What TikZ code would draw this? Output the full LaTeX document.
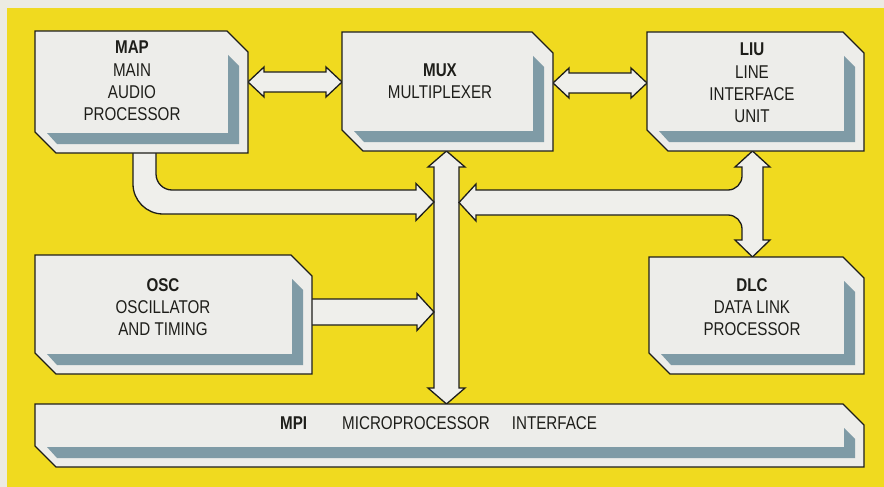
\documentclass[tikz,border=0pt]{standalone}
\usepackage{fontspec}
\setmainfont{Liberation Sans}[FakeStretch=0.82]
\usetikzlibrary{fit,calc}
\definecolor{paper}{HTML}{ECEBE2}
\definecolor{bgyellow}{HTML}{F0DA1F}
\definecolor{boxfillc}{HTML}{EDEDEA}
\definecolor{shadowblue}{HTML}{7F9BA6}
\definecolor{ink}{HTML}{1E1E1A}
\definecolor{arrowfillc}{HTML}{EFEFEB}
\tikzset{
  boxline/.style={draw=ink, line width=1.4pt, line join=miter},
  fatarrow/.style={fill=arrowfillc, draw=ink, line width=1.3pt, line join=miter},
  boxtext/.style={align=center, inner sep=0pt, text=ink, font=\fontsize{18.5}{22.3}\selectfont},
}
% name, x0, y0, x1, y1
\newcommand\blockbox[5]{%
  \node[fit={(#2,#3)(#4,#5)}, inner sep=0pt] (#1) {};
  \fill[boxfillc] (#2,#3) -- (#4-21,#3) -- (#4,#3+21) -- (#4,#5) -- (#2+21,#5) -- (#2,#5-21) -- cycle;
  \fill[shadowblue] (#4-20,#3+24) -- (#4-9,#3+35) -- (#4-9,#5-9) -- (#2+22,#5-9) -- (#2+12,#5-20) -- (#4-20,#5-20) -- cycle;
  \draw[boxline] (#2,#3) -- (#4-21,#3) -- (#4,#3+21) -- (#4,#5) -- (#2+21,#5) -- (#2,#5-21) -- cycle;
}
% horizontal double arrow: xl, xr, yc
\newcommand\hdarrow[3]{%
  \draw[fatarrow] (#1,#3) -- (#1+16,#3-15) -- (#1+16,#3-10) -- (#2-16,#3-10) -- (#2-16,#3-15)
    -- (#2,#3) -- (#2-16,#3+15) -- (#2-16,#3+10) -- (#1+16,#3+10) -- (#1+16,#3+15) -- cycle;
}
\begin{document}
\begin{tikzpicture}[x=1pt, y=-1pt]
\useasboundingbox (0,0) rectangle (884,487);
\fill[paper] (0,0) rectangle (884,487);
\fill[bgyellow] (7,8) rectangle (884,487);

% ---- connectors (drawn under the boxes) ----
% MAP <-> MUX
\hdarrow{248}{342}{82}
% MUX <-> LIU
\hdarrow{553}{647}{83}
% vertical bus MUX <-> MPI
\draw[fatarrow] (446.5,151) -- (465,167) -- (459,167) -- (459,388) -- (465,388) -- (446.5,404)
  -- (428,388) -- (434,388) -- (434,167) -- (428,167) -- cycle;
% MAP bus -> vertical bus
\draw[fatarrow] (133,140) -- (133,184) .. controls (133,200.5) and (146.5,214) .. (163,214)
  -- (416,214) -- (416,220.5) -- (434,202) -- (416,183.5) -- (416,190) -- (172,190)
  .. controls (163.2,190) and (156,182.8) .. (156,174) -- (156,140) -- cycle;
% LIU <-> DLC with branch to vertical bus
\draw[fatarrow] (752.5,151) -- (770,167) -- (763,167) -- (763,240) -- (770,240) -- (752.5,257)
  -- (735,240) -- (742,240) -- (742,229) .. controls (742,221.3) and (735.7,215) .. (728,215)
  -- (476,215) -- (476,221) -- (459,202.5) -- (476,184) -- (476,190) -- (728,190)
  .. controls (735.7,190) and (742,183.7) .. (742,176) -- (742,167) -- (735,167) -- cycle;
% OSC -> vertical bus
\draw[fatarrow] (300,299) -- (417,299) -- (417,293.5) -- (434,312) -- (417,330.5) -- (417,325) -- (300,325) -- cycle;

% ---- boxes ----
\blockbox{map}{35}{31}{248}{153}
\blockbox{mux}{342}{32}{553}{151}
\blockbox{liu}{647}{32}{864}{151}
\blockbox{osc}{35}{255}{312}{374}
\blockbox{dlc}{649}{257}{864}{374}
\blockbox{mpi}{35}{404}{864}{467}

% ---- texts ----
\node[boxtext] (maptext) at (132,81) {\textbf{MAP}\\MAIN\\AUDIO\\PROCESSOR};
\node[boxtext] (muxtext) at (440,81) {\textbf{MUX}\\MULTIPLEXER};
\node[boxtext] (liutext) at (752,83) {\textbf{LIU}\\LINE\\INTERFACE\\UNIT};
\node[boxtext] (osctext) at (163,307) {\textbf{OSC}\\OSCILLATOR\\AND TIMING};
\node[boxtext] (dlctext) at (752,307) {\textbf{DLC}\\DATA LINK\\PROCESSOR};
\node[boxtext, anchor=west] (mpiabbr) at (280,423) {\textbf{MPI}};
\node[boxtext, anchor=west] (mpitext) at (342,423) {MICROPROCESSOR\hspace{1.2em}INTERFACE};
\end{tikzpicture}
\end{document}
